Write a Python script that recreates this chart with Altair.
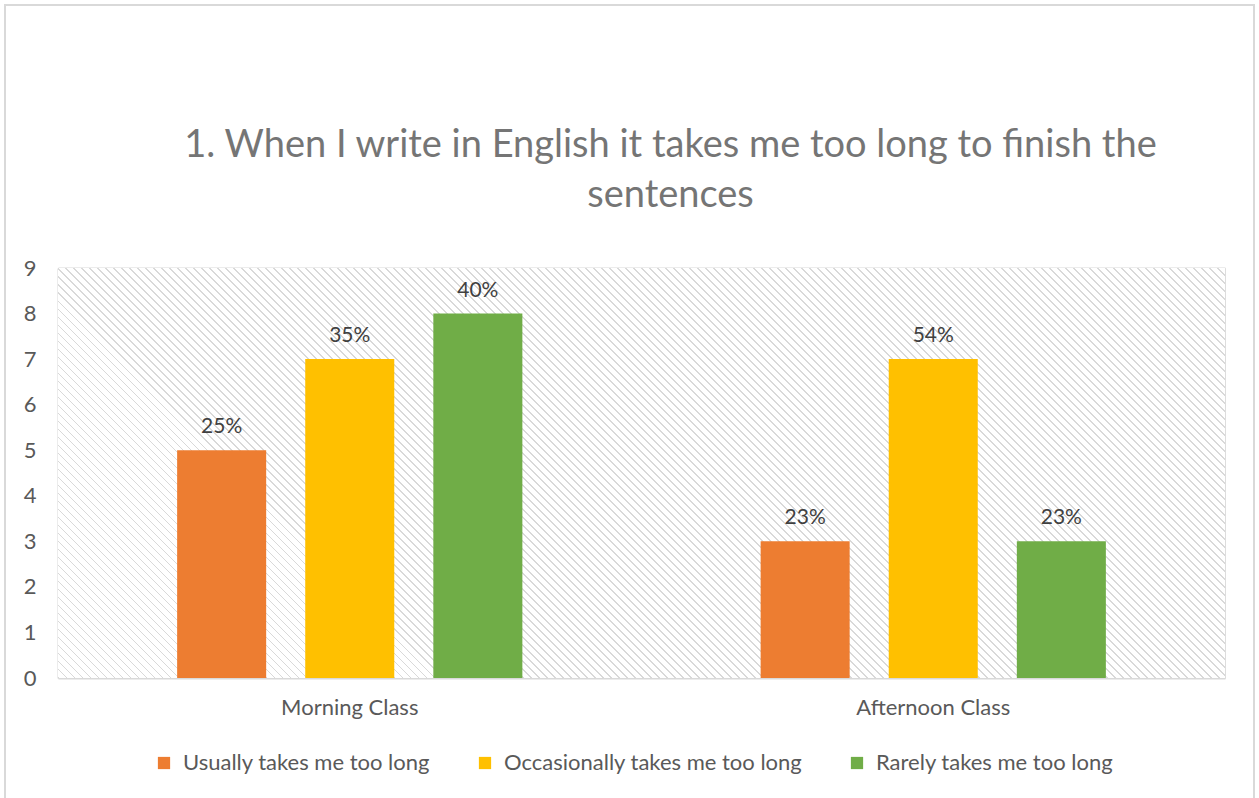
import altair as alt
import pandas as pd

classes = ["Morning Class", "Afternoon Class"]
responses = ["Usually takes me too long", "Occasionally takes me too long", "Rarely takes me too long"]
morning_counts = [5, 7, 8]
afternoon_counts = [3, 7, 3]
morning_pct = ["25%", "35%", "40%"]
afternoon_pct = ["23%", "54%", "23%"]
colors = ["#ED7D31", "#FFC000", "#70AD47"]
title_lines = ["1. When I write in English it takes me too long to finish the", "sentences"]

rows = []
for cls, counts, pcts in [(classes[0], morning_counts, morning_pct), (classes[1], afternoon_counts, afternoon_pct)]:
    for r, c, p in zip(responses, counts, pcts):
        rows.append({"cls": cls, "resp": r, "count": c, "pct": p})
df = pd.DataFrame(rows)

W, H = 1167, 410
FONT = "Lato"
GRAY = "#595959"

# hatch pattern (style only) via a striped linear gradient, lines at 45 degrees
k = (W + H) / (W * W + H * H)
x2g, y2g = k * W, 1 - k * H
period_px = 8.0
n_stripes = int((W + H) / period_px)
stops = []
for i in range(n_stripes):
    a = i / n_stripes
    b = (i + 0.22) / n_stripes
    c = (i + 1) / n_stripes
    stops += [alt.GradientStop(offset=a, color="#d9d9d9"),
              alt.GradientStop(offset=b, color="#d9d9d9"),
              alt.GradientStop(offset=b, color="#ffffff"),
              alt.GradientStop(offset=min(c, 1.0), color="#ffffff")]
hatch_fill = alt.LinearGradient(gradient="linear", stops=stops, x1=0, y1=1, x2=x2g, y2=y2g)

one = alt.Data(values=[{}])
hatch = alt.Chart(one).mark_rect(fill=hatch_fill, strokeWidth=0).encode(
    x=alt.value(0), x2=alt.value("width"), y=alt.value(0), y2=alt.value("height")
)
frame = alt.Chart(one).mark_rect(fill=None, stroke="#d9d9d9", strokeWidth=2).encode(
    x=alt.value(-53), x2=alt.value(1196), y=alt.value(-263), y2=alt.value(540)
)

x_enc = alt.X("cls:N", sort=classes, title=None,
              scale=alt.Scale(paddingInner=0, paddingOuter=0),
              axis=alt.Axis(labelAngle=0, ticks=False, domain=False, grid=True, bandPosition=0,
                            gridColor="#d9d9d9", gridWidth=2, labelFont=FONT, labelFontSize=22,
                            labelColor=GRAY, labelPadding=19))
xoff = alt.XOffset("resp:N", sort=responses,
                   scale=alt.Scale(paddingInner=0.305, paddingOuter=0.93))
y_enc = alt.Y("count:Q", title=None,
              scale=alt.Scale(domain=[0, 9], nice=False),
              axis=alt.Axis(values=list(range(10)), ticks=False, domain=False, grid=True,
                            gridColor="#d9d9d9", gridWidth=2, labelFont=FONT, labelFontSize=22,
                            labelColor=GRAY, labelPadding=22))

bars = alt.Chart(df).mark_bar().encode(
    x=x_enc, xOffset=xoff, y=y_enc,
    color=alt.Color("resp:N", sort=responses, title=None,
                    scale=alt.Scale(domain=responses, range=colors),
                    legend=alt.Legend(orient="none", legendX=95, legendY=484, direction="horizontal",
                                      symbolType="square", symbolSize=150, symbolStrokeWidth=0,
                                      labelFont=FONT, labelFontSize=22, labelColor=GRAY,
                                      labelOffset=8, columnPadding=43, labelLimit=400)),
)
labels = alt.Chart(df).mark_text(baseline="bottom", dy=-13, font=FONT, fontSize=21, color="#404040").encode(
    x=alt.X("cls:N", sort=classes), xOffset=alt.XOffset("resp:N", sort=responses), y="count:Q", text="pct:N"
)

chart = alt.layer(frame, hatch, bars, labels).properties(
    width=W, height=H,
    title=alt.TitleParams(title_lines, font=FONT, fontSize=38, fontWeight="normal", color="#757575",
                          anchor="middle", dx=29, offset=-211, lineHeight=50),
    autosize=alt.AutoSizeParams(type="none"),
    padding={"left": 58, "top": 268, "right": 34, "bottom": 120},
).configure_view(stroke="#d9d9d9", strokeWidth=2).configure(background="white")

chart.save("out.html", embed_options={"renderer": "svg", "actions": False})
